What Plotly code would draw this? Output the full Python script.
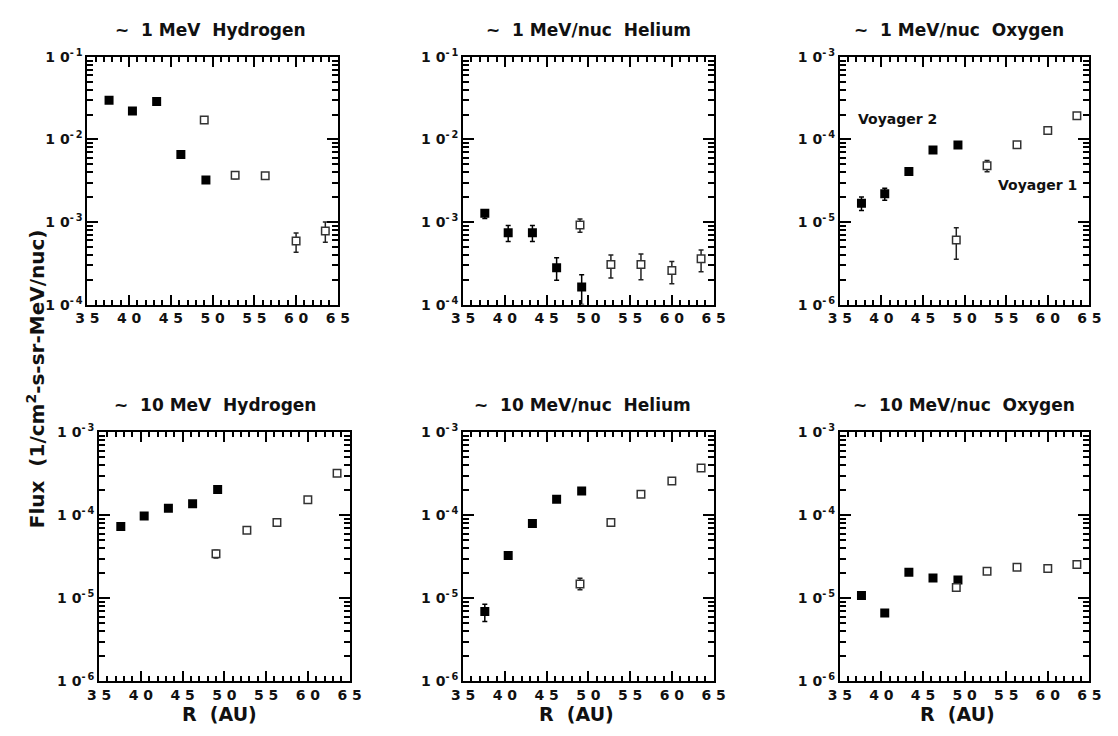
import plotly.graph_objects as go

# ---------------- data ----------------
R_V2 = [37.6, 40.4, 43.3, 46.2, 49.2]   # Voyager 2 (filled)
R_V1 = [49.0, 52.7, 56.3, 60.0, 63.5]   # Voyager 1 (open)

# ~1 MeV Hydrogen
h1_v2 = [0.0298, 0.0221, 0.0287, 0.00658, 0.00322]
h1_v2_hi = [0.0310, 0.0230, 0.0298, 0.00685, 0.00335]
h1_v2_lo = [0.0286, 0.0212, 0.0276, 0.00630, 0.00295]
h1_v1 = [0.0172, 0.00369, 0.00362, 0.000589, 0.00078]
h1_v1_hi = [0.0182, 0.00390, 0.00385, 0.000738, 0.00100]
h1_v1_lo = [0.0162, 0.00335, 0.00330, 0.000430, 0.000568]

# ~1 MeV/nuc Helium
he1_v2 = [0.00128, 0.00074, 0.00074, 0.00028, 0.000163]
he1_v2_hi = [0.00135, 0.00091, 0.00091, 0.00037, 0.00023]
he1_v2_lo = [0.00110, 0.00058, 0.00058, 0.000197, 0.000100]
he1_v1 = [0.00092, 0.000307, 0.000307, 0.000259, 0.000358]
he1_v1_hi = [0.00109, 0.000399, 0.000410, 0.000333, 0.000457]
he1_v1_lo = [0.00075, 0.000210, 0.000200, 0.000179, 0.000250]

# ~1 MeV/nuc Oxygen
o1_v2 = [1.69e-5, 2.20e-5, 4.10e-5, 7.46e-5, 8.55e-5]
o1_v2_hi = [2.01e-5, 2.57e-5, 4.35e-5, 7.80e-5, 8.90e-5]
o1_v2_lo = [1.38e-5, 1.84e-5, 3.80e-5, 7.10e-5, 8.20e-5]
o1_v1 = [6.05e-6, 4.80e-5, 8.63e-5, 1.28e-4, 1.93e-4]
o1_v1_hi = [8.53e-6, 5.54e-5, 9.00e-5, 1.33e-4, 2.00e-4]
o1_v1_lo = [3.55e-6, 4.07e-5, 8.30e-5, 1.23e-4, 1.86e-4]

# ~10 MeV Hydrogen
h10_v2 = [7.34e-5, 9.80e-5, 1.22e-4, 1.38e-4, 2.05e-4]
h10_v2_hi = [7.70e-5, 1.03e-4, 1.27e-4, 1.43e-4, 2.12e-4]
h10_v2_lo = [6.60e-5, 9.30e-5, 1.16e-4, 1.33e-4, 1.98e-4]
h10_v1 = [3.44e-5, 6.59e-5, 8.18e-5, 1.54e-4, 3.21e-4]
h10_v1_hi = [3.80e-5, 6.90e-5, 8.50e-5, 1.60e-4, 3.30e-4]
h10_v1_lo = [3.05e-5, 6.30e-5, 7.90e-5, 1.48e-4, 3.12e-4]

# ~10 MeV/nuc Helium
he10_v2 = [6.94e-6, 3.27e-5, 7.96e-5, 1.56e-4, 1.96e-4]
he10_v2_hi = [8.46e-6, 3.45e-5, 8.30e-5, 1.61e-4, 2.02e-4]
he10_v2_lo = [5.25e-6, 3.05e-5, 7.60e-5, 1.51e-4, 1.90e-4]
he10_v1 = [1.49e-5, 8.18e-5, 1.79e-4, 2.59e-4, 3.71e-4]
he10_v1_hi = [1.74e-5, 8.50e-5, 1.85e-4, 2.66e-4, 3.80e-4]
he10_v1_lo = [1.27e-5, 7.90e-5, 1.73e-4, 2.52e-4, 3.62e-4]

# ~10 MeV/nuc Oxygen
o10_v2 = [1.08e-5, 6.63e-6, 2.06e-5, 1.75e-5, 1.66e-5]
o10_v2_hi = [1.12e-5, 6.90e-6, 2.13e-5, 1.81e-5, 1.72e-5]
o10_v2_lo = [1.04e-5, 6.35e-6, 1.99e-5, 1.69e-5, 1.60e-5]
o10_v1 = [1.35e-5, 2.12e-5, 2.36e-5, 2.28e-5, 2.56e-5]
o10_v1_hi = [1.40e-5, 2.19e-5, 2.44e-5, 2.36e-5, 2.65e-5]
o10_v1_lo = [1.30e-5, 2.05e-5, 2.28e-5, 2.20e-5, 2.47e-5]

titles = ["~\u00a0 1 MeV\u00a0 Hydrogen", "~\u00a0 1 MeV/nuc\u00a0 Helium", "~\u00a0 1 MeV/nuc\u00a0 Oxygen",
          "~\u00a0 10 MeV\u00a0 Hydrogen", "~\u00a0 10 MeV/nuc\u00a0 Helium", "~\u00a0 10 MeV/nuc\u00a0 Oxygen"]
x_tick_vals = [35, 40, 45, 50, 55, 60, 65]
x_tick_text = ["3 5", "4 0", "4 5", "5 0", "5 5", "6 0", "6 5"]
y_decades = [(-4, -1), (-4, -1), (-6, -3), (-6, -3), (-6, -3), (-6, -3)]

series = [
    (h1_v2, h1_v2_hi, h1_v2_lo, h1_v1, h1_v1_hi, h1_v1_lo),
    (he1_v2, he1_v2_hi, he1_v2_lo, he1_v1, he1_v1_hi, he1_v1_lo),
    (o1_v2, o1_v2_hi, o1_v2_lo, o1_v1, o1_v1_hi, o1_v1_lo),
    (h10_v2, h10_v2_hi, h10_v2_lo, h10_v1, h10_v1_hi, h10_v1_lo),
    (he10_v2, he10_v2_hi, he10_v2_lo, he10_v1, he10_v1_hi, he10_v1_lo),
    (o10_v2, o10_v2_hi, o10_v2_lo, o10_v1, o10_v1_hi, o10_v1_lo),
]

# ---------------- layout geometry (pixels) ----------------
W, H = 1118, 736
x_px = [(77, 333), (461, 717), (846, 1101), (89, 345), (461, 717), (846, 1101)]
y_px = [(48, 302)] * 3 + [(433, 688)] * 3
title_pos = [(203, 20), (589, 20), (968, 20), (207, 405), (583, 405), (973, 405)]
xlab_pos = [(212, 722), (577, 722), (966, 722)]

FONT = "DejaVu Sans"
fig = go.Figure()

def sup_label(e):
    return "1 0<sup>-\u2009" + str(abs(e)) + "</sup>"

layout_axes = {}
for i in range(6):
    n = "" if i == 0 else str(i + 1)
    v2, v2hi, v2lo, v1, v1hi, v1lo = series[i]
    fig.add_trace(go.Scatter(
        x=R_V2, y=v2, mode="markers", xaxis="x" + n, yaxis="y" + n, showlegend=False,
        marker=dict(symbol="square", size=9, color="black"),
        error_y=dict(type="data", symmetric=False,
                     array=[h - y for h, y in zip(v2hi, v2)],
                     arrayminus=[y - l for l, y in zip(v2lo, v2)],
                     color="black", thickness=1.5, width=2.5)))
    fig.add_trace(go.Scatter(
        x=R_V1, y=v1, mode="markers", xaxis="x" + n, yaxis="y" + n, showlegend=False,
        marker=dict(symbol="square", size=7.5, color="white", line=dict(color="#333", width=1.5)),
        error_y=dict(type="data", symmetric=False,
                     array=[h - y for h, y in zip(v1hi, v1)],
                     arrayminus=[y - l for l, y in zip(v1lo, v1)],
                     color="#222", thickness=1.5, width=2.5)))

    lo, hi = y_decades[i]
    decades = list(range(lo, hi + 1))
    minor_vals = [m * 10.0 ** d for d in range(lo, hi) for m in range(2, 10)]
    x0, x1 = x_px[i]
    yt, yb = y_px[i]
    layout_axes["xaxis" + n] = dict(
        domain=[x0 / W, x1 / W], anchor="y" + n, range=[35, 65],
        tickmode="array", tickvals=x_tick_vals, ticktext=x_tick_text,
        ticks="inside", ticklen=10, tickwidth=1.5, tickcolor="black",
        showline=True, linewidth=2, linecolor="black", mirror="allticks",
        showgrid=False, zeroline=False,
        tickfont=dict(family=FONT, size=14, color="#111", weight="bold"),
        minor=dict(ticks="inside", ticklen=5, tickwidth=1.5, tickcolor="black",
                   tick0=35, dtick=1, showgrid=False),
    )
    layout_axes["yaxis" + n] = dict(
        domain=[1 - yb / H, 1 - yt / H], anchor="x" + n, type="log", range=[lo, hi],
        tickmode="array", tickvals=[10.0 ** d for d in decades],
        ticktext=[sup_label(d) for d in decades],
        ticks="inside", ticklen=11, tickwidth=1.5, tickcolor="black",
        showline=True, linewidth=2, linecolor="black", mirror="allticks",
        showgrid=False, zeroline=False,
        tickfont=dict(family=FONT, size=14, color="#111", weight="bold"),
        minor=dict(ticks="inside", ticklen=6, tickwidth=1.5, tickcolor="black",
                   tickmode="array", tickvals=minor_vals, showgrid=False),
    )

annotations = []
for (tx, ty), t in zip(title_pos, titles):
    annotations.append(dict(x=tx / W, y=1 - ty / H, xref="paper", yref="paper", text=t,
                            showarrow=False, xanchor="center", yanchor="middle",
                            font=dict(family=FONT, size=17, color="#111", weight="bold")))
for (lx, ly) in xlab_pos:
    annotations.append(dict(x=lx / W, y=1 - ly / H, xref="paper", yref="paper", text="R\u00a0 (AU)",
                            showarrow=False, xanchor="center", yanchor="middle",
                            font=dict(family=FONT, size=19, color="#111", weight="bold")))
annotations.append(dict(x=24 / W, y=1 - 378 / H, xref="paper", yref="paper",
                        text="Flux\u00a0 (1/cm<sup>2</sup>-s-sr-MeV/nuc)", textangle=-90,
                        showarrow=False, xanchor="center", yanchor="middle",
                        font=dict(family=FONT, size=20, color="#111", weight="bold")))
annotations.append(dict(x=905 / W, y=1 - 112 / H, xref="paper", yref="paper", text="Voyager 2",
                        showarrow=False, xanchor="center", yanchor="middle",
                        font=dict(family=FONT, size=14, color="#111", weight="bold")))
annotations.append(dict(x=1048 / W, y=1 - 179 / H, xref="paper", yref="paper", text="Voyager 1",
                        showarrow=False, xanchor="center", yanchor="middle",
                        font=dict(family=FONT, size=14, color="#111", weight="bold")))

fig.update_layout(
    width=W, height=H, margin=dict(l=0, r=0, t=0, b=0),
    paper_bgcolor="white", plot_bgcolor="white",
    font=dict(family=FONT, color="#111", weight="bold"),
    annotations=annotations, showlegend=False,
    **layout_axes,
)

fig.write_html("out.html")
